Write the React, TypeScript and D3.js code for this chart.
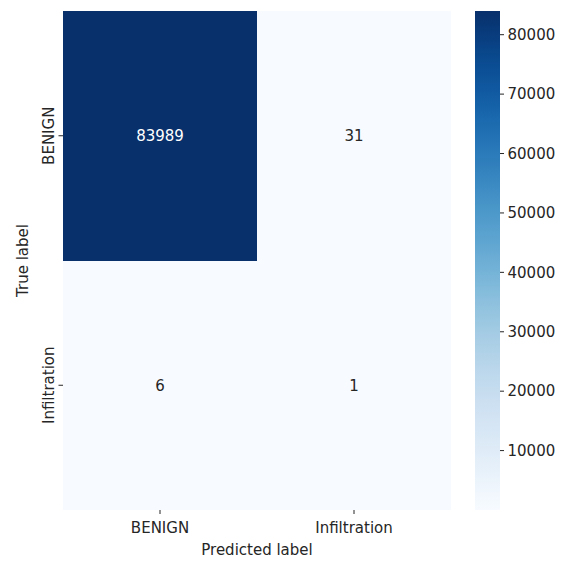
import React from "react";
import * as d3 from "d3";

const classLabels = ["BENIGN", "Infiltration"];
const trueLabels = ["BENIGN", "BENIGN", "Infiltration", "Infiltration"];
const predLabels = ["BENIGN", "Infiltration", "BENIGN", "Infiltration"];
const counts = [83989, 31, 6, 1];
const colorbarTicks = [10000, 20000, 30000, 40000, 50000, 60000, 70000, 80000];

export default function App() {
  const W = 563, H = 563;
  const left = 63, right = 451, top = 11, bottom = 510;
  const cbLeft = 475, cbRight = 500;
  const font = "'DejaVu Sans', sans-serif";
  const fs = 15;
  const textColor = "#262626";

  const x = d3.scaleBand().domain(classLabels).range([left, right]);
  const y = d3.scaleBand().domain(classLabels).range([top, bottom]);
  const vmin = d3.min(counts) as number;
  const vmax = d3.max(counts) as number;
  const color = d3.scaleSequential(d3.interpolateBlues).domain([vmin, vmax]);
  const cy = d3.scaleLinear().domain([vmin, vmax]).range([bottom, top]);

  const nStops = 64;
  const stops = d3.range(nStops + 1).map((i) => i / nStops);

  return (
    <svg width={W} height={H} style={{ position: "absolute", left: 0, top: 0, background: "#fff" }} fontFamily={font}>
      <defs>
        <linearGradient id="cb" x1="0" y1="1" x2="0" y2="0">
          {stops.map((t) => (
            <stop key={t} offset={t} stopColor={color(vmin + t * (vmax - vmin))} />
          ))}
        </linearGradient>
      </defs>
      {counts.map((v, i) => (
        <rect
          key={"c" + i}
          x={x(predLabels[i])}
          y={y(trueLabels[i])}
          width={x.bandwidth()}
          height={y.bandwidth()}
          fill={color(v)}
          shapeRendering="crispEdges"
        />
      ))}
      {counts.map((v, i) => {
        const c = d3.hsl(color(v));
        return (
          <text
            key={"t" + i}
            x={(x(predLabels[i]) as number) + x.bandwidth() / 2}
            y={(y(trueLabels[i]) as number) + y.bandwidth() / 2}
            dy="0.35em"
            textAnchor="middle"
            fontSize={fs}
            fill={c.l < 0.5 ? "#ffffff" : textColor}
          >
            {v}
          </text>
        );
      })}
      {classLabels.map((lab) => {
        const cx = (x(lab) as number) + x.bandwidth() / 2;
        return (
          <g key={"x" + lab}>
            <line x1={cx} x2={cx} y1={bottom} y2={bottom + 4} stroke={textColor} strokeWidth={1} />
            <text x={cx} y={533} textAnchor="middle" fontSize={fs} fill={textColor}>
              {lab}
            </text>
          </g>
        );
      })}
      {classLabels.map((lab) => {
        const cyy = (y(lab) as number) + y.bandwidth() / 2;
        return (
          <g key={"y" + lab}>
            <line x1={left - 4.5} x2={left} y1={cyy} y2={cyy} stroke={textColor} strokeWidth={1} />
            <text
              transform={`translate(54,${cyy}) rotate(-90)`}
              textAnchor="middle"
              fontSize={fs}
              fill={textColor}
            >
              {lab}
            </text>
          </g>
        );
      })}
      <text x={(left + right) / 2} y={555} textAnchor="middle" fontSize={fs} fill={textColor}>
        Predicted label
      </text>
      <text
        transform={`translate(28,${(top + bottom) / 2}) rotate(-90)`}
        textAnchor="middle"
        fontSize={fs}
        fill={textColor}
      >
        True label
      </text>
      <rect x={cbLeft} y={top} width={cbRight - cbLeft} height={bottom - top} fill="url(#cb)" />
      {colorbarTicks.map((t) => (
        <g key={"cb" + t}>
          <line x1={cbRight} x2={cbRight + 4} y1={cy(t)} y2={cy(t)} stroke={textColor} strokeWidth={1} />
          <text x={cbRight + 7.5} y={cy(t)} dy="0.35em" fontSize={fs} fill={textColor}>
            {t}
          </text>
        </g>
      ))}
    </svg>
  );
}
